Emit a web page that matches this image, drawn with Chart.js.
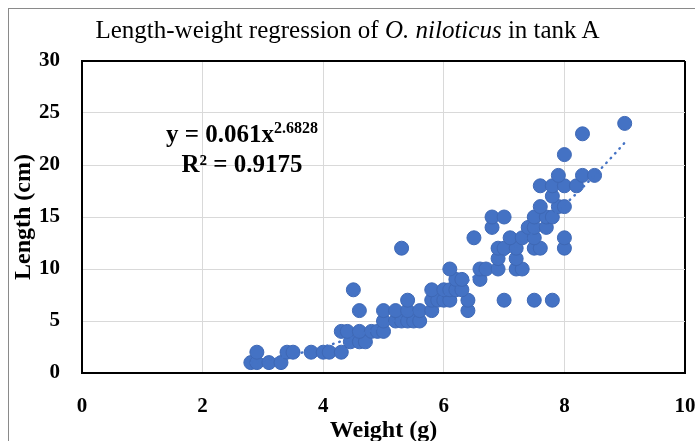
<!DOCTYPE html>
<html>
<head>
<meta charset="utf-8">
<title>Length-weight regression</title>
<script src="https://cdn.jsdelivr.net/npm/chart.js@4.4.1/dist/chart.umd.min.js"></script>
<style>
  body { margin: 0; background: #fff; overflow: hidden; }
  .wrap { position: relative; width: 695px; height: 441px; }
  .frame { position: absolute; left: 8px; top: 8px; width: 760px; height: 500px; border: 1px solid #8a8a8a; }
  #chart { position: absolute; left: 0; top: 0; }
  .title { position: absolute; left: 0; top: 16px; width: 695px; text-align: center;
           font: 25px "Liberation Serif", serif; color: #000; white-space: nowrap; }
  .eq { position: absolute; left: 142px; top: 119px; width: 200px; text-align: center;
        font: bold 25px/30px "Liberation Serif", serif; color: #000; white-space: nowrap; }
  .eq sup { font-size: 16px; line-height: 0; vertical-align: 9px; }
</style>
</head>
<body>
<div class="wrap">
  <div class="frame"></div>
  <canvas id="chart" width="695" height="441"></canvas>
  <div class="title">Length-weight regression of <i>O. niloticus</i> in tank A</div>
  <div class="eq">y = 0.061x<sup>2.6828</sup><br>R² = 0.9175</div>
</div>

<script>
  // weight (g) of each fish, and its length (cm), same order
  var weightG = [
    2.8, 2.9, 3.1, 3.3,                          // 1 cm
    2.9, 3.4, 3.5, 3.8, 4.0, 4.1, 4.3,           // 2 cm
    4.45, 4.6, 4.7,                              // 3 cm
    4.3, 4.4, 4.6, 4.8, 4.9, 5.0,                // 4 cm
    5.0, 5.2, 5.3, 5.4, 5.5, 5.6,                // 5 cm
    4.6, 5.0, 5.2, 5.4, 5.6, 5.8, 6.4,           // 6 cm
    5.4, 5.8, 5.9, 6.0, 6.1, 6.4, 7.0, 7.5, 7.8, // 7 cm
    4.5, 5.8, 6.0, 6.1, 6.2, 6.3,                // 8 cm
    6.2, 6.3, 6.6,                               // 9 cm
    6.1, 6.6, 6.7, 6.9, 7.2, 7.3,                // 10 cm
    6.9, 7.2,                                    // 11 cm
    5.3, 6.9, 7.0, 7.2, 7.5, 7.6, 8.0,           // 12 cm
    6.5, 7.1, 7.3, 7.5, 8.0,                     // 13 cm
    6.8, 7.4, 7.5, 7.7,                          // 14 cm
    6.8, 7.0, 7.5, 7.7, 7.8,                     // 15 cm
    7.6, 7.9, 8.0,                               // 16 cm
    7.8,                                         // 17 cm
    7.6, 7.8, 8.0, 8.2,                          // 18 cm
    7.9, 8.3, 8.5,                               // 19 cm
    8.0, 8.3, 9.0                                // 21, 23, 24 cm
  ];
  var lengthCm = [
    1, 1, 1, 1,
    2, 2, 2, 2, 2, 2, 2,
    3, 3, 3,
    4, 4, 4, 4, 4, 4,
    5, 5, 5, 5, 5, 5,
    6, 6, 6, 6, 6, 6, 6,
    7, 7, 7, 7, 7, 7, 7, 7, 7,
    8, 8, 8, 8, 8, 8,
    9, 9, 9,
    10, 10, 10, 10, 10, 10,
    11, 11,
    12, 12, 12, 12, 12, 12, 12,
    13, 13, 13, 13, 13,
    14, 14, 14, 14,
    15, 15, 15, 15, 15,
    16, 16, 16,
    17,
    18, 18, 18, 18,
    19, 19, 19,
    21, 23, 24
  ];

  // power trendline y = a * x^b as printed on the chart
  var fitA = 0.061;
  var fitB = 2.6828;

  var xTicks = [0, 2, 4, 6, 8, 10];
  var yTicks = [0, 5, 10, 15, 20, 25, 30];

  var points = [];
  for (var i = 0; i < weightG.length; i++) {
    points.push({ x: weightG[i], y: lengthCm[i] });
  }

  var wMin = Math.min.apply(null, weightG);
  var wMax = Math.max.apply(null, weightG);
  var trend = [];
  for (var w = wMin; w <= wMax + 1e-9; w += 0.05) {
    trend.push({ x: w, y: fitA * Math.pow(w, fitB) });
  }

  var tickFont = { family: "Liberation Serif", size: 21, weight: "bold" };
  var titleFont = { family: "Liberation Serif", size: 24, weight: "bold", lineHeight: 1 };

  var ctx = document.getElementById("chart");
  var chart = new Chart(ctx, {
    type: "scatter",
    data: {
      datasets: [{
        label: "trend",
        type: "line",
        data: trend,
        borderColor: "#4472C4",
        borderWidth: 2.5,
        borderDash: [0.5, 6],
        borderCapStyle: "round",
        pointRadius: 0,
        fill: false,
        order: 0
      }, {
        label: "fish",
        data: points,
        pointRadius: 7,
        pointBackgroundColor: "#4472C4",
        pointBorderColor: "#3e68b5",
        pointBorderWidth: 1,
        order: 1
      }]
    },
    options: {
      responsive: false,
      animation: false,
      layout: { padding: { top: 61, right: 10, bottom: 0, left: 0 } },
      plugins: { legend: { display: false }, tooltip: { enabled: false } },
      scales: {
        x: {
          type: "linear",
          min: xTicks[0],
          max: xTicks[xTicks.length - 1],
          afterBuildTicks: function (s) { s.ticks = xTicks.map(function (v) { return { value: v }; }); },
          ticks: { font: tickFont, color: "#000", padding: 21 },
          grid: {
            drawTicks: false,
            color: function (c) { return c.tick && c.tick.value === 10 ? "#000" : "#d9d9d9"; },
            lineWidth: function (c) { return c.tick && c.tick.value === 10 ? 2 : 1; }
          },
          border: { color: "#000", width: 2 },
          title: { display: true, text: "Weight (g)", font: titleFont, color: "#000", padding: { top: 0, bottom: -2 } },
          afterFit: function (s) { s.height = 68; s.paddingLeft = 0; s.paddingRight = 0; }
        },
        y: {
          min: yTicks[0],
          max: yTicks[yTicks.length - 1],
          afterBuildTicks: function (s) { s.ticks = yTicks.map(function (v) { return { value: v }; }); },
          ticks: { font: tickFont, color: "#000", padding: 22 },
          grid: {
            drawTicks: false,
            color: function (c) { return c.tick && c.tick.value === 30 ? "#000" : "#d9d9d9"; },
            lineWidth: function (c) { return c.tick && c.tick.value === 30 ? 2 : 1; }
          },
          border: { color: "#000", width: 2 },
          title: { display: true, text: "Length (cm)", font: titleFont, color: "#000", padding: { top: 12, bottom: 0 } },
          afterFit: function (s) { s.width = 82; }
        }
      }
    }
  });
</script>
</body>
</html>
